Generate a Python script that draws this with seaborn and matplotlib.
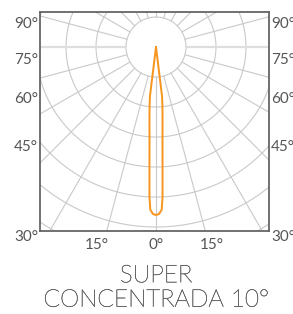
import numpy as np
import pandas as pd
import matplotlib.pyplot as plt
import matplotlib.patheffects as pe
import seaborn as sns

# photometric curve (half, symmetric) - gamma angle in degrees, intensity in cd/klm
gamma = [0, 1, 2, 2.5, 3, 4, 5, 6, 7, 10]
intensity = [5600, 5570, 5430, 5000, 4170, 3100, 2500, 2070, 1670, 0]

left_labels = ["90°", "75°", "60°", "45°", "30°"]
left_label_y = [0.77, -0.43, -1.73, -3.33, -6.33]
bottom_labels = ["15°", "0°", "15°"]
bottom_label_x = [-1.97, 0.0, 1.87]
title = "SUPER\nCONCENTRADA 10°"

ring_step = 1000

sns.set_style("white")
plt.rcParams["font.family"] = ["Lato", "DejaVu Sans"]

fig = plt.figure(figsize=(2.93, 3.14), dpi=100)
ax = fig.add_axes([40 / 293, 83 / 314, 229 / 293, 219 / 314])

# grid: rings and radial lines every 15 degrees, starting at the inner ring
grid_col = "#c9c9c9"
t = np.linspace(0, 2 * np.pi, 400)
for k in range(1, 9):
    ax.plot(k * np.cos(t), k * np.sin(t), color=grid_col, lw=0.8, zorder=1)
for a in range(0, 360, 15):
    rad = np.deg2rad(a)
    if a in (0, 180):
        ax.plot([np.cos(rad), 9 * np.cos(rad)], [np.sin(rad), 9 * np.sin(rad)],
                color="#dedede", lw=1.6, zorder=1)
    else:
        ax.plot([np.cos(rad), 9 * np.cos(rad)], [np.sin(rad), 9 * np.sin(rad)],
                color=grid_col, lw=0.8, zorder=1)

# light distribution curve, both halves joined into one closed path
g = np.deg2rad(np.array(gamma, dtype=float))
i = np.array(intensity, dtype=float) / ring_step
df = pd.DataFrame({
    "x": np.concatenate([-i[::-1] * np.sin(g[::-1]), i[1:] * np.sin(g[1:])]),
    "y": np.concatenate([-i[::-1] * np.cos(g[::-1]), -i[1:] * np.cos(g[1:])]),
})
sns.lineplot(data=df, x="x", y="y", sort=False, estimator=None,
             color="#f7941d", lw=1.4, ax=ax, zorder=3)

ax.set_xlim(-3.867, 3.767)
ax.set_ylim(-6.133, 1.167)
ax.set_aspect("equal")
ax.set_xticks([])
ax.set_yticks([])
ax.set_xlabel("")
ax.set_ylabel("")
for s in ax.spines.values():
    s.set_color("#666666")
    s.set_linewidth(1.3)

txt_col = "#555555"
for lab, y in zip(left_labels, left_label_y):
    ax.text(-3.93, y, lab, ha="right", va="center", fontsize=11, color=txt_col)
    ax.text(3.83, y, lab, ha="left", va="center", fontsize=11, color=txt_col)
for lab, x in zip(bottom_labels, bottom_label_x):
    ax.text(x, -6.6, lab, ha="center", va="center", fontsize=11, color=txt_col)

fig.text(0.532, 0.083, title, ha="center", va="center", fontsize=17.5,
         fontweight="light", color="#666666", linespacing=1.2,
         path_effects=[pe.withStroke(linewidth=0.35, foreground="#666666")])

fig.savefig("out.png", dpi=100)
